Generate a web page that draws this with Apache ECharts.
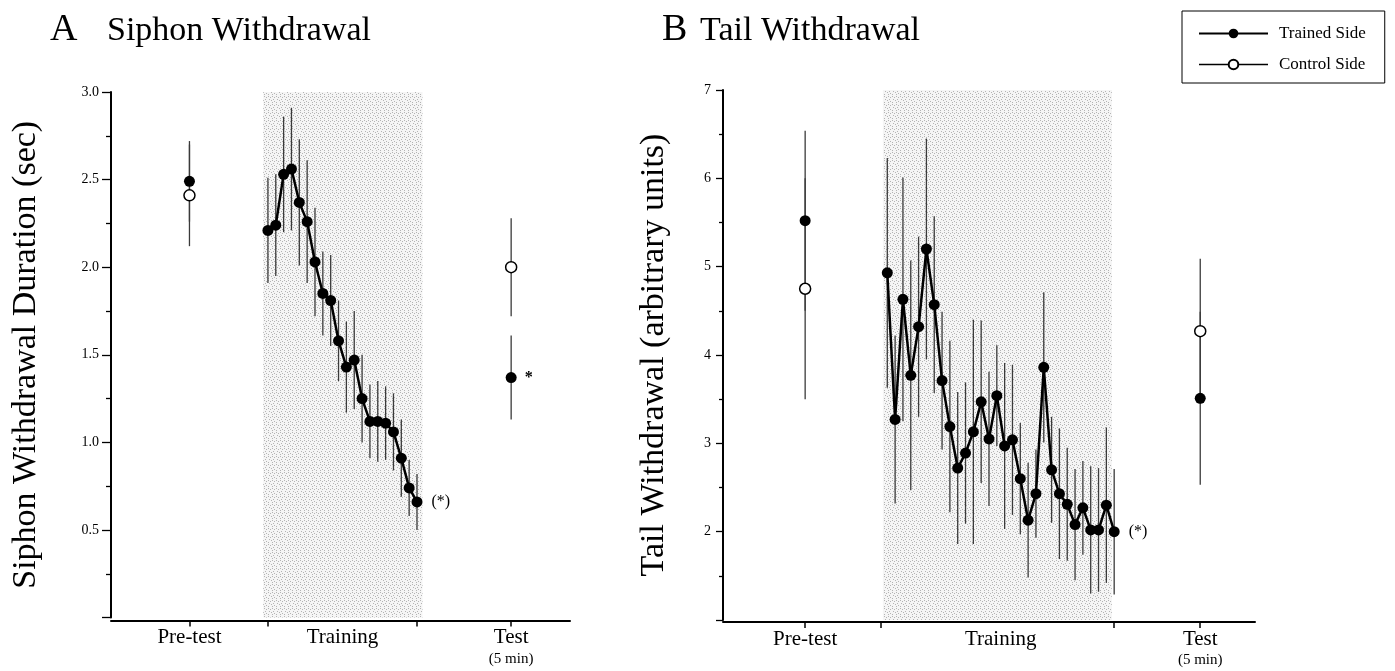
<!DOCTYPE html>
<html>
<head>
<meta charset="utf-8">
<script src="https://cdn.jsdelivr.net/npm/echarts@6/dist/echarts.min.js"></script>
<style>
  html, body { margin: 0; padding: 0; background: #fff; }
  #main { width: 1395px; height: 671px; }
</style>
</head>
<body>
<div id="main"></div>
<script>
// ---- panel A : siphon withdrawal (sec) ----
var trialsA = [1, 2, 3, 4, 5, 6, 7, 8, 9, 10, 11, 12, 13, 14, 15, 16, 17, 18, 19, 20];
var trainedA = [2.21, 2.24, 2.53, 2.56, 2.37, 2.26, 2.03, 1.85, 1.81, 1.58, 1.43, 1.47, 1.25, 1.12, 1.12, 1.11, 1.06, 0.91, 0.74, 0.66];
var errA = [0.30, 0.29, 0.33, 0.35, 0.36, 0.35, 0.31, 0.24, 0.26, 0.23, 0.26, 0.28, 0.25, 0.21, 0.23, 0.21, 0.22, 0.22, 0.16, 0.16];
var phaseXA = [-9, 32];            // pre-test, test
var trainedPhaseA = [2.49, 1.37];
var trainedPhaseErrA = [0.23, 0.24];
var controlA = [2.41, 2.00];
var controlErrA = [0.29, 0.28];
var shadeA = [0.4, 20.7, 0, 3];
var tickA = [-9, 1, 20, 32];
var labelPosA = [-9, 10.5, 32];

// ---- panel B : tail withdrawal (arbitrary units) ----
var trialsB = [1, 2, 3, 4, 5, 6, 7, 8, 9, 10, 11, 12, 13, 14, 15, 16, 17, 18, 19, 20, 21, 22, 23, 24, 25, 26, 27, 28, 29, 30];
var trainedB = [4.93, 3.27, 4.63, 3.77, 4.32, 5.20, 4.57, 3.71, 3.19, 2.72, 2.89, 3.13, 3.47, 3.05, 3.54, 2.97, 3.04, 2.60, 2.13, 2.43, 3.86, 2.70, 2.43, 2.31, 2.08, 2.27, 2.02, 2.02, 2.30, 2.00];
var errB = [1.30, 0.95, 1.38, 1.30, 1.02, 1.25, 1.00, 0.78, 0.97, 0.86, 0.80, 1.27, 0.92, 0.76, 0.57, 0.94, 0.85, 0.63, 0.65, 0.50, 0.85, 0.60, 0.74, 0.64, 0.63, 0.53, 0.72, 0.70, 0.88, 0.71];
var phaseXB = [-9.5, 41];
var trainedPhaseB = [5.52, 3.51];
var trainedPhaseErrB = [1.02, 0.98];
var controlB = [4.75, 4.27];
var controlErrB = [1.25, 0.82];
var shadeB = [0.45, 29.7, 1, 7];
var tickB = [-9.5, 0.2, 30, 41];
var labelPosB = [-9.5, 15.5, 41];

var phaseNames = ['Pre-test', 'Training', 'Test'];
var FONT = 'Liberation Serif';

// stippled grey fill for the training period
function stipple() {
  var c = document.createElement('canvas');
  c.width = 8; c.height = 8;
  var ctx = c.getContext('2d');
  ctx.fillStyle = '#f5f5f5';
  ctx.fillRect(0, 0, 8, 8);
  ctx.fillStyle = '#b4b4b4';
  [[0,0],[2,1],[4,0],[6,1],[1,3],[5,3],[7,4],[0,6],[2,5],[4,6]].forEach(function (d) {
    ctx.fillRect(d[0], d[1], 1, 1);
  });
  return c;
}
var pattern = { image: stipple(), repeat: 'repeat' };

function errData(xs, ys, es) {
  return xs.map(function (x, i) { return [x, ys[i] - es[i], ys[i] + es[i]]; });
}
function pairs(xs, ys) {
  return xs.map(function (x, i) { return [x, ys[i]]; });
}

function renderErr(params, api) {
  var p1 = api.coord([api.value(0), api.value(1)]);
  var p2 = api.coord([api.value(0), api.value(2)]);
  return {
    type: 'line',
    shape: { x1: p1[0], y1: p1[1], x2: p2[0], y2: p2[1] },
    style: { stroke: '#3a3a3a', lineWidth: 1.3 }
  };
}
function renderShade(params, api) {
  var a = api.coord([api.value(0), api.value(3)]);
  var b = api.coord([api.value(1), api.value(2)]);
  return {
    type: 'rect',
    shape: { x: a[0], y: a[1], width: b[0] - a[0], height: b[1] - a[1] },
    style: { fill: pattern }
  };
}

function phaseLabel(pos) {
  return function (v) {
    var i = pos.indexOf(v);
    if (i === 2) return '{a|Test}\n{b|(5 min)}';
    return i >= 0 ? '{a|' + phaseNames[i] + '}' : '';
  };
}

function xAxisFor(idx, min, max, ticks, labels, off) {
  return {
    type: 'value', gridIndex: idx, min: min, max: max, offset: off,
    axisLine: { onZero: false, lineStyle: { color: '#000', width: 2 } },
    splitLine: { show: false },
    axisTick: { customValues: ticks, length: 6, lineStyle: { color: '#000', width: 1.5 } },
    axisLabel: {
      customValues: labels, margin: 6, formatter: phaseLabel(labels),
      rich: {
        a: { fontFamily: FONT, fontSize: 21, color: '#000', lineHeight: 22 },
        b: { fontFamily: FONT, fontSize: 15, color: '#000', lineHeight: 20 }
      }
    }
  };
}

function yAxisFor(idx, min, max, interval, name, gap, tickLen, minorLen, digits) {
  return {
    type: 'value', gridIndex: idx, min: min, max: max, interval: interval,
    name: name, nameLocation: 'middle', nameGap: gap, nameRotate: 90,
    nameTextStyle: { fontFamily: FONT, fontSize: 34, color: '#000' },
    axisLine: { show: true, onZero: false, lineStyle: { color: '#000', width: 2 } },
    axisTick: { show: true, length: tickLen, lineStyle: { color: '#000', width: 1.3 } },
    minorTick: { show: true, splitNumber: 2, length: minorLen, lineStyle: { color: '#000', width: 1.3 } },
    splitLine: { show: false },
    axisLabel: {
      margin: 12, fontFamily: FONT, fontSize: 14, color: '#000',
      formatter: function (v) { return v === min ? '' : v.toFixed(digits); }
    }
  };
}

function trainingData(trials, vals) {
  var last = trials.length - 1;
  return trials.map(function (t, i) {
    if (i === last) {
      return { value: [t, vals[i]], label: { show: true, formatter: '(*)', position: 'right', distance: 9,
        fontFamily: FONT, fontSize: 16, color: '#000' } };
    }
    return [t, vals[i]];
  });
}

function panelSeries(idx, d) {
  var dotStyle = { color: '#000', opacity: 1 };
  var phaseTrained = pairs(d.phaseX, d.trainedPhase);
  if (d.star) {
    phaseTrained[1] = { value: phaseTrained[1], label: { show: true, formatter: '*', position: 'right', distance: 8,
      fontFamily: FONT, fontSize: 16, fontWeight: 'bold', color: '#000' } };
  }
  return [
    {
      type: 'custom', xAxisIndex: idx, yAxisIndex: idx, z: 0, silent: true,
      renderItem: renderShade, data: [d.shade], encode: { x: [0, 1], y: [2, 3] }
    },
    {
      type: 'custom', xAxisIndex: idx, yAxisIndex: idx, z: 1, silent: true,
      renderItem: renderErr, encode: { x: 0, y: [1, 2] },
      data: errData(d.trials, d.trained, d.err)
        .concat(errData(d.phaseX, d.trainedPhase, d.trainedPhaseErr))
        .concat(errData(d.phaseX, d.control, d.controlErr))
    },
    {
      name: 'Trained Side', type: 'line', xAxisIndex: idx, yAxisIndex: idx, z: 3,
      data: trainingData(d.trials, d.trained),
      symbol: 'circle', symbolSize: 11, itemStyle: dotStyle,
      lineStyle: { color: '#000', width: 2.5 }
    },
    {
      name: 'Trained Side', type: 'scatter', xAxisIndex: idx, yAxisIndex: idx, z: 3,
      data: phaseTrained, symbol: 'circle', symbolSize: 11, itemStyle: dotStyle
    },
    {
      name: 'Control Side', type: 'line', xAxisIndex: idx, yAxisIndex: idx, z: 3,
      data: pairs(d.phaseX, d.control),
      symbol: 'circle', symbolSize: 11,
      itemStyle: { color: '#fff', borderColor: '#000', borderWidth: 1.5, opacity: 1 },
      lineStyle: { opacity: 0 }
    }
  ];
}

var chart = echarts.init(document.getElementById('main'));
chart.setOption({
  animation: false,
  backgroundColor: '#fff',
  title: [
    { text: 'A', left: 50, top: 11, padding: 0, textStyle: { fontFamily: FONT, fontSize: 38, fontWeight: 'normal', color: '#000' } },
    { text: 'Siphon Withdrawal', left: 107, top: 14, padding: 0, textStyle: { fontFamily: FONT, fontSize: 34, fontWeight: 'normal', color: '#000' } },
    { text: 'B', left: 662, top: 11, padding: 0, textStyle: { fontFamily: FONT, fontSize: 38, fontWeight: 'normal', color: '#000' } },
    { text: 'Tail Withdrawal', left: 700, top: 14, padding: 0, textStyle: { fontFamily: FONT, fontSize: 34, fontWeight: 'normal', color: '#000' } }
  ],
  legend: {
    orient: 'vertical', left: 1182, top: 11,
    borderColor: '#000', borderWidth: 1, padding: [14, 19, 10, 16],
    itemWidth: 69, itemHeight: 12, itemGap: 14,
    textStyle: { fontFamily: FONT, fontSize: 17, color: '#000', padding: [0, 0, 0, 6] },
    data: [
      { name: 'Trained Side', lineStyle: { width: 2, color: '#000' } },
      { name: 'Control Side', lineStyle: { opacity: 1, width: 1.5, color: '#000' } }
    ]
  },
  grid: [
    { left: 111, width: 459, top: 92, bottom: 53.4 },
    { left: 723, width: 532, top: 90, bottom: 51 }
  ],
  xAxis: [
    xAxisFor(0, -19, 39.5, tickA, labelPosA, 3),
    xAxisFor(1, -20, 48, tickB, labelPosB, 2)
  ],
  yAxis: [
    yAxisFor(0, 0, 3, 0.5, 'Siphon Withdrawal Duration (sec)', 68, 9, 5, 1),
    yAxisFor(1, 1, 7, 1, 'Tail Withdrawal (arbitrary units)', 52, 7, 4, 0)
  ],
  series: panelSeries(0, {
    trials: trialsA, trained: trainedA, err: errA, phaseX: phaseXA,
    trainedPhase: trainedPhaseA, trainedPhaseErr: trainedPhaseErrA,
    control: controlA, controlErr: controlErrA, shade: shadeA, star: true
  }).concat(panelSeries(1, {
    trials: trialsB, trained: trainedB, err: errB, phaseX: phaseXB,
    trainedPhase: trainedPhaseB, trainedPhaseErr: trainedPhaseErrB,
    control: controlB, controlErr: controlErrB, shade: shadeB, star: false
  }))
});
</script>
</body>
</html>
